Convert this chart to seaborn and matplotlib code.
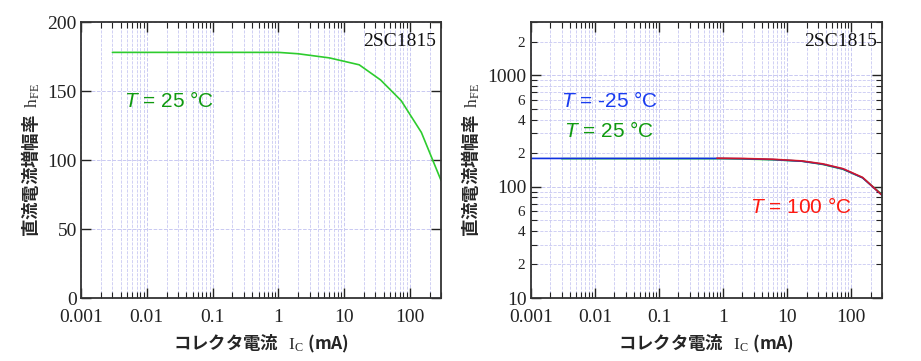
import numpy as np
import pandas as pd
import matplotlib
matplotlib.use("Agg")
import matplotlib.pyplot as plt
import matplotlib.ticker as mticker
import seaborn as sns

# values
ic_25 = [0.003, 0.01, 0.1, 1, 2, 6, 17, 36, 74, 150, 300]
hfe_25 = [178, 178, 178, 178, 177, 174, 169, 158, 143, 120, 85]

ic_m25 = [0.001, 0.01, 0.1, 0.8, 2, 6, 17, 36, 74, 150, 300]
hfe_m25 = [179, 179, 179, 179, 178, 175, 169, 159, 144, 120, 84]

ic_100 = [0.8, 2, 6, 17, 36, 74, 150, 300]
hfe_100 = [180, 179, 176, 170, 160, 145, 121, 84]

x_labels = ["0.001", "0.01", "0.1", "1", "10", "100"]

sns.set_style("ticks")
SERIF = "Liberation Serif"
SANS = ["Liberation Sans", "DejaVu Sans"]
CJK = ["Noto Sans CJK JP", "DejaVu Sans"]
plt.rcParams["font.family"] = [SERIF]
plt.rcParams["mathtext.fontset"] = "custom"
plt.rcParams["mathtext.rm"] = SERIF
plt.rcParams["mathtext.it"] = "Liberation Sans:italic"

GRID = "#c9c9f2"

fig = plt.figure(figsize=(9.21, 3.61), dpi=100)
ax1 = fig.add_axes([0.088, 0.1745, 0.391, 0.7645])
ax2 = fig.add_axes([0.5765, 0.1745, 0.381, 0.7645])


def style_axes(ax):
    ax.set_xscale("log")
    ax.set_xlim(0.001, 300)
    ax.xaxis.set_major_locator(mticker.FixedLocator([0.001, 0.01, 0.1, 1, 10, 100]))
    ax.xaxis.set_major_formatter(mticker.FixedFormatter(x_labels))
    ax.xaxis.set_minor_locator(mticker.LogLocator(base=10, subs=np.arange(2, 10), numticks=20))
    ax.xaxis.set_minor_formatter(mticker.NullFormatter())
    ax.tick_params(which="both", direction="in", top=True, right=True, colors="#222")
    ax.tick_params(which="major", length=7, width=1.0, labelsize=14)
    ax.tick_params(axis="x", which="major", pad=8)
    ax.tick_params(axis="y", which="major", pad=3)
    ax.tick_params(which="minor", length=4, width=0.8)
    for sp in ax.spines.values():
        sp.set_linewidth(1.3)
        sp.set_color("#333")
    ax.grid(True, which="major", axis="both", color=GRID, ls="--", lw=0.7)
    ax.grid(True, which="minor", axis="x", color=GRID, ls="--", lw=0.6)
    ax.set_xlabel(r"コレクタ電流   $\mathrm{I}_{\mathrm{C}}$ (mA)", family=CJK,
                  fontsize=12.5, fontweight="bold", labelpad=5)
    ax.set_ylabel(r"直流電流増幅率  $\mathrm{h}_{\mathrm{FE}}$", family=CJK,
                  fontsize=12.5, fontweight="bold", labelpad=4)
    ax.text(0.985, 0.93, "2SC1815", transform=ax.transAxes, ha="right", va="center",
            family=SERIF, fontsize=14, color="#111")


# left: linear scale
df25 = pd.DataFrame({"ic": ic_25, "hfe": hfe_25})
sns.lineplot(data=df25, x="ic", y="hfe", ax=ax1, color="#2ecc2e", lw=1.2)
style_axes(ax1)
ax1.set_ylim(0, 200)
ax1.yaxis.set_major_locator(mticker.MultipleLocator(50))
ax1.text(0.12, 0.715, r"$\mathit{T}$ = 25 °C", transform=ax1.transAxes,
         family=SANS, color="#109a10", fontsize=15, va="center")

# right: log scale
dfm25 = pd.DataFrame({"ic": ic_m25, "hfe": hfe_m25})
df100 = pd.DataFrame({"ic": ic_100, "hfe": hfe_100})
sns.lineplot(data=df25, x="ic", y="hfe", ax=ax2, color="#2ecc2e", lw=1.2)
sns.lineplot(data=dfm25, x="ic", y="hfe", ax=ax2, color="#1030e0", lw=1.2)
sns.lineplot(data=df100, x="ic", y="hfe", ax=ax2, color="#ee1010", lw=1.2, alpha=0.85)
style_axes(ax2)
ax2.set_yscale("log")
ax2.set_ylim(10, 3000)
ax2.yaxis.set_major_locator(mticker.FixedLocator([10, 100, 1000]))
ax2.yaxis.set_major_formatter(mticker.FixedFormatter(["10", "100", "1000"]))
ax2.yaxis.set_minor_locator(mticker.LogLocator(base=10, subs=np.arange(2, 10), numticks=20))


def minor_fmt(v, pos):
    m = round(v / 10 ** np.floor(np.log10(v) + 1e-9))
    return str(int(m)) if m in (2, 4, 6) else ""


ax2.yaxis.set_minor_formatter(mticker.FuncFormatter(minor_fmt))
ax2.tick_params(axis="y", which="minor", labelsize=11, pad=4)
ax2.grid(True, which="minor", axis="y", color=GRID, ls="--", lw=0.6)
ax2.text(0.085, 0.715, r"$\mathit{T}$ = -25 °C", transform=ax2.transAxes,
         family=SANS, color="#1a3cf0", fontsize=15, va="center")
ax2.text(0.095, 0.605, r"$\mathit{T}$ = 25 °C", transform=ax2.transAxes,
         family=SANS, color="#109a10", fontsize=15, va="center")
ax2.text(0.625, 0.33, r"$\mathit{T}$ = 100 °C", transform=ax2.transAxes,
         family=SANS, color="#ff1a10", fontsize=15, va="center")

fig.savefig("out.png", dpi=100)
